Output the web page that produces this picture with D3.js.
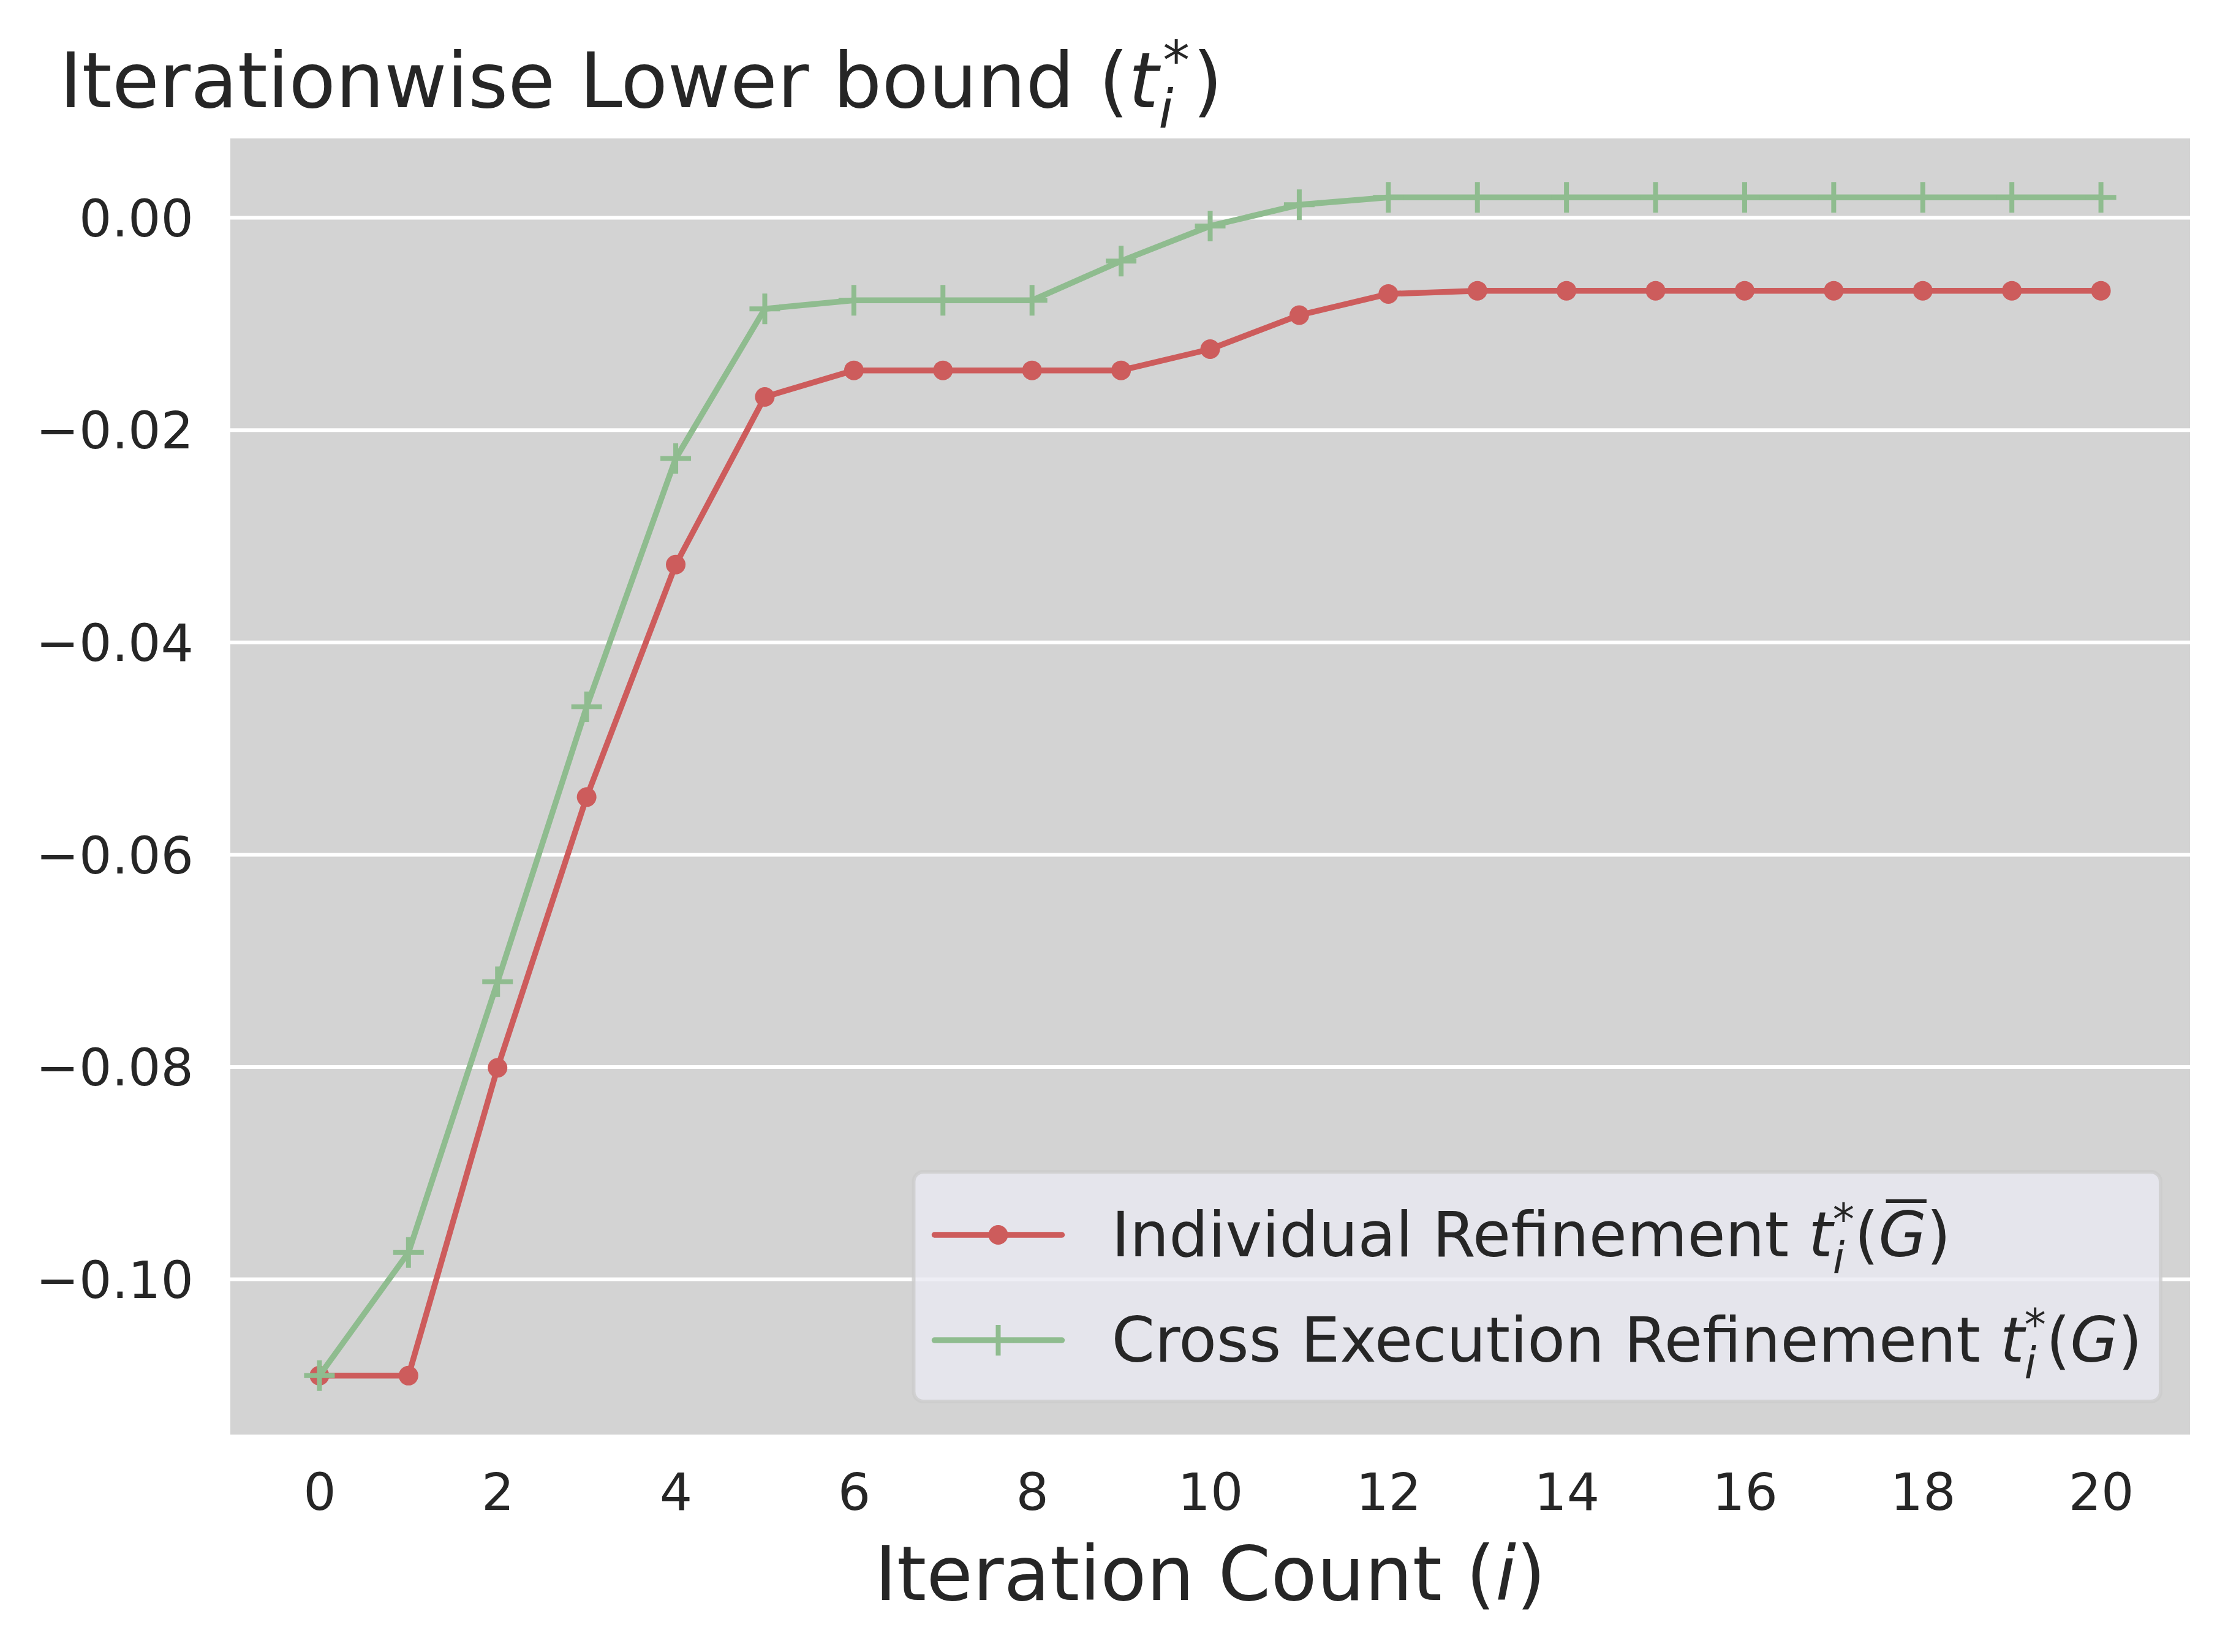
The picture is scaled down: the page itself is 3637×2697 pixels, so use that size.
<!DOCTYPE html>
<html><head><meta charset="utf-8">
<script src="https://cdn.jsdelivr.net/npm/d3@7"></script>
<style>body{margin:0;background:#fff}</style>
</head><body>
<svg id="c" width="3637" height="2697"></svg>
<script>
const iterations = [0,1,2,3,4,5,6,7,8,9,10,11,12,13,14,15,16,17,18,19,20];
const individual = [-0.1091,-0.1091,-0.0801,-0.0546,-0.0327,-0.0169,-0.0144,-0.0144,-0.0144,-0.0144,-0.0124,-0.0092,-0.0072,-0.0069,-0.0069,-0.0069,-0.0069,-0.0069,-0.0069,-0.0069,-0.0069];
const cross = [-0.1091,-0.0975,-0.0720,-0.0461,-0.0227,-0.0086,-0.0078,-0.0078,-0.0078,-0.0041,-0.0008,0.0012,0.0019,0.0019,0.0019,0.0019,0.0019,0.0019,0.0019,0.0019,0.0019];
const xTicks = [0,2,4,6,8,10,12,14,16,18,20];
const yTicks = [0,-0.02,-0.04,-0.06,-0.08,-0.10];

const FONT = "DejaVu Sans";
const TXT = "#262626";
const RED = "#cd5c5c", GREEN = "#8fbc8f";
const L = 376, R = 3575, T = 226, B = 2342;

const svg = d3.select("#c");
svg.append("rect").attr("width",3637).attr("height",2697).attr("fill","#fff");

const all = individual.concat(cross);
const lo = d3.min(all), hi = d3.max(all), m = (hi-lo)*0.05;
const x = d3.scaleLinear().domain([-1,21]).range([L,R]);
const y = d3.scaleLinear().domain([lo-m, hi+m]).range([B,T]);

svg.append("rect").attr("x",L).attr("y",T).attr("width",R-L).attr("height",B-T).attr("fill","#d3d3d3");

// y grid + labels
const yAxis = d3.axisLeft(y).tickValues(yTicks).tickFormat(d3.format(".2f")).tickSize(-(R-L)).tickPadding(60);
const gy = svg.append("g").attr("transform",`translate(${L},0)`).call(yAxis);
gy.select(".domain").remove();
gy.selectAll(".tick line").attr("stroke","#fff").attr("stroke-width",6);
gy.selectAll(".tick text").attr("font-family",FONT).attr("font-size",84).attr("fill",TXT).attr("dy","0.36em");

// x labels
const xAxis = d3.axisBottom(x).tickValues(xTicks).tickFormat(d3.format("d")).tickSize(0).tickPadding(63);
const gx = svg.append("g").attr("transform",`translate(0,${B})`).call(xAxis);
gx.select(".domain").remove();
gx.selectAll(".tick text").attr("font-family",FONT).attr("font-size",84).attr("fill",TXT).attr("dy","0.71em");

const line = d3.line().x((d,i)=>x(iterations[i])).y(d=>y(d));
const LW = 9.5;
// red series
svg.append("path").datum(individual).attr("d",line).attr("fill","none").attr("stroke",RED).attr("stroke-width",LW).attr("stroke-linejoin","round").attr("stroke-linecap","round");
svg.append("g").selectAll("circle").data(individual).join("circle")
  .attr("cx",(d,i)=>x(iterations[i])).attr("cy",d=>y(d)).attr("r",16).attr("fill",RED);
// green series
svg.append("path").datum(cross).attr("d",line).attr("fill","none").attr("stroke",GREEN).attr("stroke-width",LW).attr("stroke-linejoin","round").attr("stroke-linecap","round");
const PS = 25;
svg.append("g").selectAll("path").data(cross).join("path")
  .attr("d",(d,i)=>{const cx=x(iterations[i]),cy=y(d);return `M${cx-PS},${cy}H${cx+PS}M${cx},${cy-PS}V${cy+PS}`;})
  .attr("stroke",GREEN).attr("stroke-width",8).attr("fill","none");

// helper for math t_i^*
function mathT(text, size, subDy, supUp, supDx){
  const s = size*0.7;
  text.append("tspan").attr("font-style","italic").text("t");
  const sub = text.append("tspan").attr("font-style","italic").attr("font-size",s).attr("dy",subDy).text("i");
  const w = sub.node().getComputedTextLength();
  text.append("tspan").attr("font-size",s).attr("dx",-w+supDx).attr("dy",-(subDy+supUp)).text("*");
  return supUp;
}

// title
const title = svg.append("text").attr("x",97).attr("y",175).attr("font-family",FONT).attr("font-size",125).attr("fill",TXT);
title.append("tspan").text("Iterationwise Lower bound (");
let up = mathT(title,125,33,46,7);
title.append("tspan").attr("dy",up).attr("dx",5).text(")");

// x label
const xl = svg.append("text").attr("x",(L+R)/2).attr("y",2612).attr("text-anchor","middle").attr("font-family",FONT).attr("font-size",123).attr("fill",TXT);
xl.append("tspan").text("Iteration Count (");
xl.append("tspan").attr("font-style","italic").text("i");
xl.append("tspan").text(")");

// legend
const lg = svg.append("g");
const box = lg.append("rect");
const FS = 101;
const rows = [{c:RED, m:"dot", y:2051, label:"Individual Refinement ", bar:true},
              {c:GREEN, m:"plus", y:2223, label:"Cross Execution Refinement ", bar:false}];
let maxW = 0; const texts=[];
rows.forEach(r=>{
  const t = lg.append("text").attr("font-family",FONT).attr("font-size",FS).attr("fill",TXT).attr("y",r.y).attr("x",0);
  t.append("tspan").text(r.label);
  const u = mathT(t,FS,27,36,0);
  t.append("tspan").attr("dy",u).text("(");
  const g = t.append("tspan").attr("font-style","italic").text("G");
  t.append("tspan").text(")");
  texts.push({t,g,r});
  maxW = Math.max(maxW, t.node().getBBox().width);
});
const boxRight = R-48, boxW = 323+maxW+30, boxLeft = boxRight-boxW;
box.attr("x",boxLeft).attr("y",1913).attr("width",boxW).attr("height",375).attr("rx",16)
  .attr("fill","#eaeaf2").attr("fill-opacity",0.8).attr("stroke","#cccccc").attr("stroke-opacity",0.8).attr("stroke-width",6);
texts.forEach(({t,g,r})=>{
  t.attr("x",boxLeft+323);
  const cy = r.y-35;
  lg.append("line").attr("x1",boxLeft+34).attr("x2",boxLeft+242).attr("y1",cy).attr("y2",cy).attr("stroke",r.c).attr("stroke-width",LW).attr("stroke-linecap","round");
  const mx = boxLeft+138;
  if(r.m==="dot") lg.append("circle").attr("cx",mx).attr("cy",cy).attr("r",16).attr("fill",r.c);
  else lg.append("path").attr("d",`M${mx-PS},${cy}H${mx+PS}M${mx},${cy-PS}V${cy+PS}`).attr("stroke",r.c).attr("stroke-width",8);
  if(r.bar){
    const txt = t.node().textContent; const idx = txt.lastIndexOf("G");
    const e = t.node().getExtentOfChar(idx);
    lg.append("rect").attr("x",e.x+12).attr("width",e.width-12).attr("y",r.y-93).attr("height",6).attr("fill",TXT);
  }
});
</script>
</body></html>
